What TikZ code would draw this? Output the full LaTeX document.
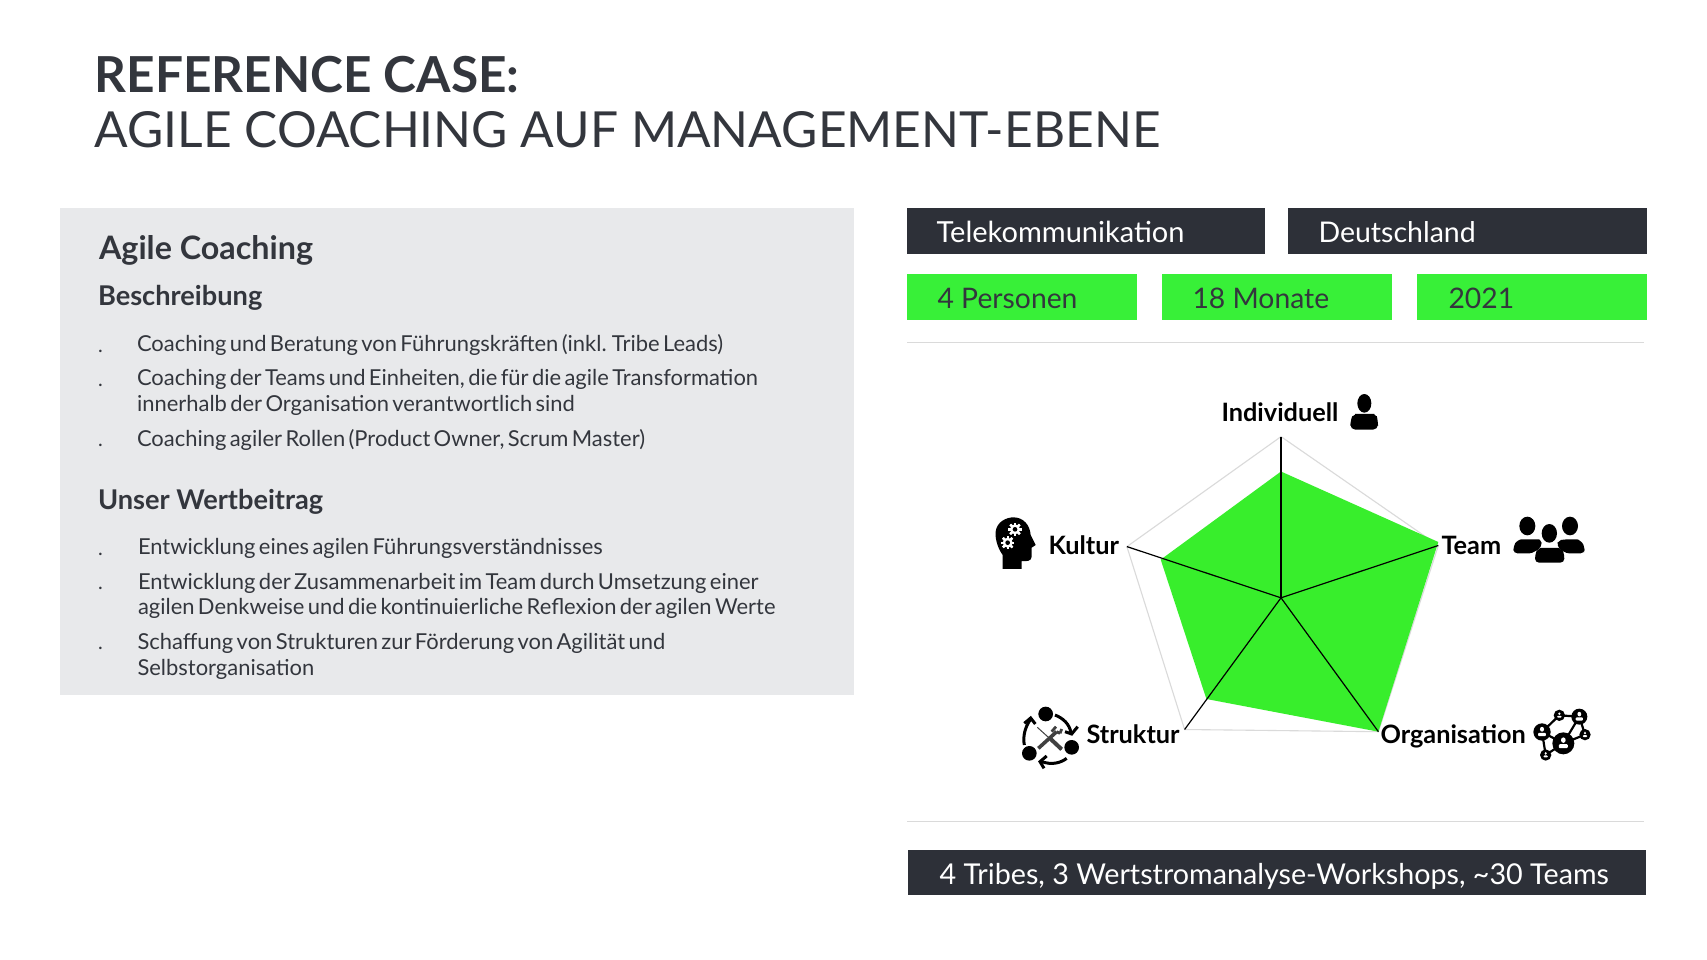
\documentclass[tikz,border=0pt]{standalone}
\usepackage{fontspec}
\setmainfont{Lato}
\newfontfamily\tightlato[WordSpace=0.6]{Lato}
\definecolor{ink}{HTML}{33363D}
\definecolor{panel}{HTML}{E8E9EB}
\definecolor{bar}{HTML}{2D3038}
\definecolor{limeb}{HTML}{38F038}
\definecolor{limer}{HTML}{38EE2C}
\definecolor{rule}{HTML}{DADADA}
\tikzset{
 txt/.style={anchor=base west,inner sep=0pt,outer sep=0pt,text=ink},
 title/.style={txt,font=\fontsize{49.7}{55}\selectfont},
 body/.style={txt,align=left,font=\tightlato\fontsize{21.95}{26.4}\selectfont},
 dotm/.style={txt,font=\fontsize{20}{24}\selectfont},
 head/.style={txt,font=\bfseries\fontsize{27.2}{30}\selectfont},
 pill/.style={txt,text=white,font=\fontsize{29}{34}\selectfont},
 pillg/.style={txt,text=ink,font=\fontsize{28.3}{34}\selectfont},
 axis/.style={txt,text=black,font=\bfseries\fontsize{25.3}{30}\selectfont},
 spoke/.style={black,line width=1.2pt},
 grid/.style={rule,line width=1.1pt},
}
\newcommand{\mygear}[2]{%
 \foreach \a in {0,45,...,315}{\fill[white,shift={(#1,#2)},rotate=\a] (-3.5,-20) rectangle (3.5,20);}
 \fill[white] (#1,#2) circle (15);
 \fill[black] (#1,#2) circle (7);
}
\newcommand{\myuser}[3]{% x y scale: white figure
 \fill[white] (#1,#2-0.3*#3) ellipse (0.22*#3 and 0.26*#3);
 \fill[white,rounded corners=1pt] (#1-0.42*#3,#2+0.45*#3) rectangle (#1+0.42*#3,#2+0.08*#3);
}
\begin{document}
\begin{tikzpicture}[x=1pt,y=-1pt]
\useasboundingbox (0,0) rectangle (1707,960);
\fill[white] (0,0) rectangle (1707,960);
% title
\node[title,font=\bfseries\fontsize{49.6}{55}\selectfont] (t1) at (94.7,93) {REFERENCE CASE:};
\node[title] (t2) at (94.7,148) {AGILE COACHING AUF MANAGEMENT-EBENE};
% left panel
\fill[panel] (60,208) rectangle (853.6,694.7);
\node[txt,font=\bfseries\fontsize{32.3}{36}\selectfont] (h0) at (99,259) {Agile Coaching};
\node[head] (h1) at (98,305) {Beschreibung};
\node[dotm] (d1) at (98,352) {.};
\node[body] (b1) at (137,351) {Coaching und Beratung von Führungskräften (inkl. Tribe Leads)};
\node[dotm] (d2) at (98,386) {.};
\node[body] (b2) at (137,385) {Coaching der Teams und Einheiten, die für die agile Transformation};
\node[body] (b2b) at (137,411) {innerhalb der Organisation verantwortlich sind};
\node[dotm] (d3) at (98,446) {.};
\node[body] (b3) at (137,446) {Coaching agiler Rollen (Product Owner, Scrum Master)};
\node[head] (h2) at (98,509) {Unser Wertbeitrag};
\node[dotm] (d4) at (98,555) {.};
\node[body] (c1) at (138,554) {Entwicklung eines agilen Führungsverständnisses};
\node[dotm] (d5) at (98,589) {.};
\node[body] (c2) at (138,589) {Entwicklung der Zusammenarbeit im Team durch Umsetzung einer};
\node[body] (c2b) at (138,614) {agilen Denkweise und die kontinuierliche Reflexion der agilen Werte};
\node[dotm] (d6) at (98,649) {.};
\node[body] (c3) at (137.5,649) {Schaffung von Strukturen zur Förderung von Agilität und};
\node[body] (c3b) at (137.5,675) {Selbstorganisation};
% top right boxes
\fill[bar] (907,208) rectangle (1265,253.7);
\fill[bar] (1288,208) rectangle (1647,253.7);
\fill[limeb] (907,274.4) rectangle (1136.7,320);
\fill[limeb] (1162,274.4) rectangle (1391.5,320);
\fill[limeb] (1416.5,274.4) rectangle (1647,320);
\node[pill] (p1) at (936.6,242) {Telekommunikation};
\node[pill,font=\fontsize{28.5}{34}\selectfont] (p2) at (1318.5,242) {Deutschland};
\node[pillg] (p3) at (937.6,308.5) {4 Personen};
\node[pillg] (p4) at (1192.5,308.5) {18 Monate};
\node[pillg] (p5) at (1448.5,308.5) {2021};
\draw[rule,line width=1pt] (907,342) -- (1644,342);
\draw[rule,line width=1pt] (907,821) -- (1644,821);
\fill[bar] (908,850.4) rectangle (1646,895);
\node[pill,font=\fontsize{28.7}{34}\selectfont] (p6) at (939.6,884.7) {4 Tribes, 3 Wertstromanalyse-Workshops, \textasciitilde30 Teams};
% radar
\coordinate (c) at (1281,597.8);
\coordinate (vI) at (1281,436.6);
\coordinate (vT) at (1438.3,545.5);
\coordinate (vO) at (1378.4,731.7);
\coordinate (vS) at (1184.6,729.5);
\coordinate (vK) at (1126.9,546.6);
\draw[grid] (vI) -- (vT) -- (vO) -- (vS) -- (vK) -- cycle;
\fill[limer] (1281,471.5) -- (1438.3,542) -- (1378.4,731.7) -- (1206.4,699) -- (1160.7,559.6) -- cycle;
\draw[spoke] (c) -- (vI);
\draw[spoke] (c) -- (vT);
\draw[spoke] (c) -- (vO);
\draw[spoke] (c) -- (vS);
\draw[spoke] (c) -- (vK);
\node[axis] (lI) at (1221.5,421.5) {Individuell};
\node[axis] (lT) at (1441.5,554) {Team};
\node[axis] (lO) at (1380.5,743.5) {Organisation};
\node[axis] (lS) at (1086.5,743.5) {Struktur};
\node[axis] (lK) at (1048.6,554) {Kultur};
% person icon
\begin{scope}[shift={(1340,385)},x=0.3333pt,y=-0.3333pt]
 \fill (73,55) ellipse (21 and 28);
 \fill[rounded corners=5pt] (31,134) -- (31,108) .. controls (36,95) and (50,87) .. (60,87) -- (88,87) .. controls (100,87) and (111,96) .. (114,108) -- (114,134) -- cycle;
\end{scope}
% team icon
\begin{scope}[shift={(1520,500)},x=0.3333pt,y=-0.3333pt]
 \fill (22,78) ellipse (24 and 28);
 \fill (150,78) ellipse (24 and 28);
 \fill (88,100) ellipse (23 and 28);
 \fill[rounded corners=4pt] (-20,160) -- (-20,140) .. controls (-12,125) and (0,118) .. (15,118) -- (45,118) .. controls (60,118) and (65,130) .. (65,140) -- (40,160) -- cycle;
 \fill[rounded corners=4pt] (194,160) -- (194,145) .. controls (188,128) and (175,118) .. (160,118) -- (135,118) .. controls (122,120) and (112,130) .. (110,138) -- (135,160) -- cycle;
 \fill[white] (88,132) -- (35,160) -- (140,160) -- cycle;
 \fill[rounded corners=4pt] (45,188) -- (45,165) .. controls (50,152) and (62,144) .. (72,144) -- (105,144) .. controls (118,144) and (130,155) .. (133,165) -- (133,188) -- cycle;
\end{scope}
% organisation icon
\begin{scope}[shift={(1530,700)},x=0.3333pt,y=-0.3333pt]
 \draw[line width=2.2pt] (36,96) -- (88,46) -- (148,50) -- (100,130) -- (47,165) -- (36,96) (100,130) -- (36,96) (148,50) -- (165,104) -- (100,130);
 \fill (100,130) circle (33);
 \fill (148,50) circle (24);
 \fill (36,96) circle (26);
 \fill (88,46) circle (17);
 \fill (165,104) circle (17);
 \fill (47,165) circle (17);
 \myuser{100}{130}{32}
 \myuser{148}{50}{26}
 \myuser{36}{96}{28}
 \myuser{88}{46}{16}
 \myuser{165}{104}{16}
 \myuser{47}{165}{16}
\end{scope}
% struktur icon
\begin{scope}[shift={(1010,690)},x=0.3333pt,y=-0.3333pt]
 \fill (107,72) circle (22);
 \fill (185,172) circle (22);
 \fill (58,190) circle (22);
 \draw[line width=3pt] (135,75) .. controls (160,85) and (178,102) .. (183,128);
 \draw[line width=3pt] (165,125) -- (185,132) -- (203,110);
 \draw[line width=3pt] (43,165) .. controls (38,140) and (45,110) .. (62,88);
 \draw[line width=3pt] (43,100) -- (62,84) -- (76,102);
 \draw[line width=3pt] (170,205) .. controls (150,220) and (125,225) .. (95,215);
 \draw[line width=3pt] (110,198) -- (90,215) -- (102,235);
 \draw[black!75,line width=1pt] (82,112) -- (155,178);
 \draw[black!75,line width=4pt] (122,147) -- (155,178);
 \draw[black!75,line width=3.6pt] (85,175) -- (140,125);
 \draw[black!75,line width=2.8pt] (125,125) -- (138,110) (150,130) -- (140,125) (150,130) -- (155,117);
\end{scope}
% kultur icon
\begin{scope}[shift={(980,500)},x=0.3333pt,y=-0.3333pt]
 \fill (68,207) -- (68,165) .. controls (50,140) and (45,110) .. (47,95) .. controls (50,65) and (80,52) .. (100,52) .. controls (130,52) and (150,75) .. (152,105) -- (167,135) -- (155,143) -- (155,170) .. controls (155,183) and (140,185) .. (125,183) -- (125,207) -- cycle;
 \mygear{105}{88}
 \mygear{83}{128}
\end{scope}
\end{tikzpicture}
\end{document}
